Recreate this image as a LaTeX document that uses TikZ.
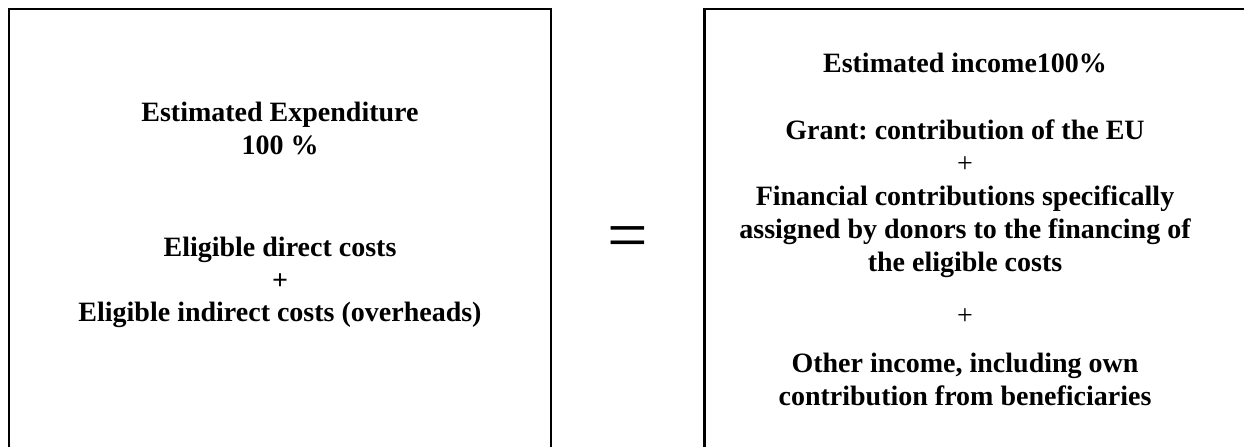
\documentclass[tikz,border=0pt]{standalone}
\usepackage{fontspec}
\setmainfont{Liberation Serif}
\usetikzlibrary{positioning}
\tikzset{boldline/.style={font=\fontsize{28}{33}\selectfont\bfseries, inner sep=0pt, anchor=base},
  plainline/.style={font=\fontsize{28}{33}\selectfont, inner sep=0pt, anchor=base},
  frame/.style={line width=2.7pt, line cap=butt}}
\frenchspacing

\begin{document}
\begin{tikzpicture}[x=1pt,y=-1pt]
  \useasboundingbox (0,0) rectangle (1244,447);
  \pgfmathsetmacro{\expMid}{280}
  \pgfmathsetmacro{\incMid}{965}
  % Draw the two frames, open at the bottom
  \draw[frame] (9,447) -- (9,9) -- (551,9) -- (551,447);
  \draw[frame] (704.5,447) -- (704.5,9) -- (1244,9);
  % Draw expenditure lines
  \foreach \n/\y/\txt in {1/121/Estimated Expenditure, 2/154/100 \%,
      3/256/Eligible direct costs, 4/289/+,
      5/321/Eligible indirect costs (overheads)} {
    \node[boldline] (exp\n) at (\expMid, \y) {\txt}; }
  % Draw income lines
  \foreach \n/\y/\txt in {1/72/Estimated income100\%,
      2/139/Grant: contribution of the EU,
      3/205/Financial contributions specifically,
      4/238/assigned by donors to the financing of,
      5/271/the eligible costs,
      6/372/{Other income, including own},
      7/405/contribution from beneficiaries} {
    \node[boldline] (inc\n) at (\incMid, \y) {\txt}; }
    \node[plainline] (incPlusA) at (\incMid, 172) {+};
    \node[plainline] (incPlusB) at (\incMid, 324) {+};
  % Equals sign between the frames
\node[inner sep=0pt, anchor=base, font=\fontsize{72}{72}\selectfont] (equals) at (628, 259) {=};
\end{tikzpicture}
\end{document}
